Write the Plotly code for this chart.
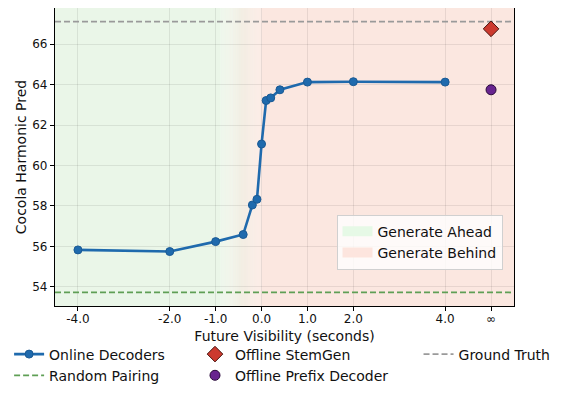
import plotly.graph_objects as go

# Datos
VISIBILITY = [-4.0, -2.0, -1.0, -0.4, -0.2, -0.1, 0.0, 0.1, 0.2, 0.4, 1.0, 2.0, 4.0]
ONLINE_DECODERS = [55.83, 55.75, 56.24, 56.59, 58.05, 58.33, 61.06, 63.21, 63.34, 63.74, 64.12, 64.14, 64.12]
OFFLINE_X = [5.0]          # posición del tick "∞"
OFFLINE_STEMGEN = [66.75]
OFFLINE_PREFIX = [63.74]
RANDOM_PAIRING = 53.73
GROUND_TRUTH = 67.11

TICK_VALS = [-4, -2, -1, 0, 1, 2, 4, 5]
TICK_TEXT = ['-4.0', '-2.0', '-1.0', '0.0', '1.0', '2.0', '4.0', '∞']
Y_TICKS = [54, 56, 58, 60, 62, 64, 66]

X_RANGE = [-4.5, 5.5]
Y_RANGE = [53.06, 67.78]

GREEN_BG = (234, 246, 232)
RED_BG = (251, 231, 224)
GRAD_START, GRAD_END = -0.9, 0.0

FONT = 'DejaVu Sans'
BLUE = '#1f6aad'

fig = go.Figure()

# Fondo: zona "ahead" (verde), transición en degradado y zona "behind" (rojo)
def rgb(c):
    return 'rgb(%d,%d,%d)' % c

fig.add_vrect(x0=X_RANGE[0], x1=GRAD_START, fillcolor=rgb(GREEN_BG), line_width=0, layer='below')
fig.add_vrect(x0=GRAD_END, x1=X_RANGE[1], fillcolor=rgb(RED_BG), line_width=0, layer='below')
n_steps = 40
step = (GRAD_END - GRAD_START) / n_steps
for i in range(n_steps):
    t = (i + 0.5) / n_steps
    c = tuple(round(g + (r - g) * t) for g, r in zip(GREEN_BG, RED_BG))
    fig.add_vrect(x0=GRAD_START + i * step, x1=GRAD_START + (i + 1) * step + 0.002,
                  fillcolor=rgb(c), line_width=0, layer='below')

# Líneas de referencia
fig.add_trace(go.Scatter(
    x=X_RANGE, y=[GROUND_TRUTH, GROUND_TRUTH], mode='lines', name='Ground Truth',
    line=dict(color='#9a9a9a', width=1.8, dash='6px,3px'), legend='legend3',
))
fig.add_trace(go.Scatter(
    x=X_RANGE, y=[RANDOM_PAIRING, RANDOM_PAIRING], mode='lines', name='Random Pairing',
    line=dict(color='#5f9f55', width=1.8, dash='6px,3px'), legend='legend',
))

# Decodificadores online
fig.add_trace(go.Scatter(
    x=VISIBILITY, y=ONLINE_DECODERS, mode='lines+markers', name='Online Decoders',
    line=dict(color=BLUE, width=2.6),
    marker=dict(size=8, color=BLUE, line=dict(color='#1a5a94', width=1)),
    legend='legend', legendrank=1,
))
fig.add_trace(go.Scatter(
    x=OFFLINE_X, y=OFFLINE_STEMGEN, mode='markers', name='Offline StemGen',
    marker=dict(symbol='diamond', size=12, color='#cc3a2f', line=dict(color='#4a1510', width=1)),
    legend='legend2',
))
fig.add_trace(go.Scatter(
    x=OFFLINE_X, y=OFFLINE_PREFIX, mode='markers', name='Offline Prefix Decoder',
    marker=dict(size=10, color='#68248f', line=dict(color='#2a0a3a', width=1)),
    legend='legend2',
))

# Entradas de leyenda para las zonas de fondo
fig.add_trace(go.Scatter(
    x=[None], y=[None], mode='lines', name='Generate Ahead',
    line=dict(color='#e6f9e6', width=10), legend='legend4',
))
fig.add_trace(go.Scatter(
    x=[None], y=[None], mode='lines', name='Generate Behind',
    line=dict(color='#fde5de', width=10), legend='legend4',
))

bottom_legend = dict(
    orientation='v', yanchor='top', y=-0.109, xanchor='left',
    bgcolor='rgba(0,0,0,0)', borderwidth=0,
    font=dict(family=FONT, size=14, color='#111111'),
    traceorder='normal',
)

# la página añade 8px de margen al body: la figura se reduce en la misma medida
fig.update_layout(
    width=562, height=389,
    margin=dict(l=47, r=56, t=0, b=91),
    paper_bgcolor='white',
    plot_bgcolor='white',
    font=dict(family=FONT, color='#111111'),
    legend=dict(bottom_legend, x=-0.100),
    legend2=dict(bottom_legend, x=0.305),
    legend3=dict(bottom_legend, x=0.792),
    legend4=dict(
        x=0.975, y=0.122, xanchor='right', yanchor='bottom',
        bgcolor='rgba(255,255,255,0.8)', bordercolor='#d0d0d0', borderwidth=1,
        font=dict(family=FONT, size=14, color='#111111'),
    ),
    xaxis=dict(
        range=X_RANGE, tickvals=TICK_VALS, ticktext=TICK_TEXT,
        showgrid=True, gridcolor='rgba(0,0,0,0.08)', gridwidth=1,
        zeroline=False, showline=True, linecolor='black', linewidth=1.2, mirror=True,
        ticks='outside', ticklen=4, tickcolor='black', ticklabelstandoff=-3,
        tickfont=dict(family=FONT, size=12, color='#111111'),
        title=dict(text='Future Visibility (seconds)', standoff=6,
                   font=dict(family=FONT, size=14, color='#111111')),
    ),
    yaxis=dict(
        range=Y_RANGE, tickvals=Y_TICKS,
        showgrid=True, gridcolor='rgba(0,0,0,0.08)', gridwidth=1,
        zeroline=False, showline=True, linecolor='black', linewidth=1.2, mirror=True,
        ticks='outside', ticklen=4, tickcolor='black',
        tickfont=dict(family=FONT, size=12, color='#111111'),
        title=dict(text='Cocola Harmonic Pred', standoff=2,
                   font=dict(family=FONT, size=14, color='#111111')),
    ),
)

fig.write_html("out.html")
